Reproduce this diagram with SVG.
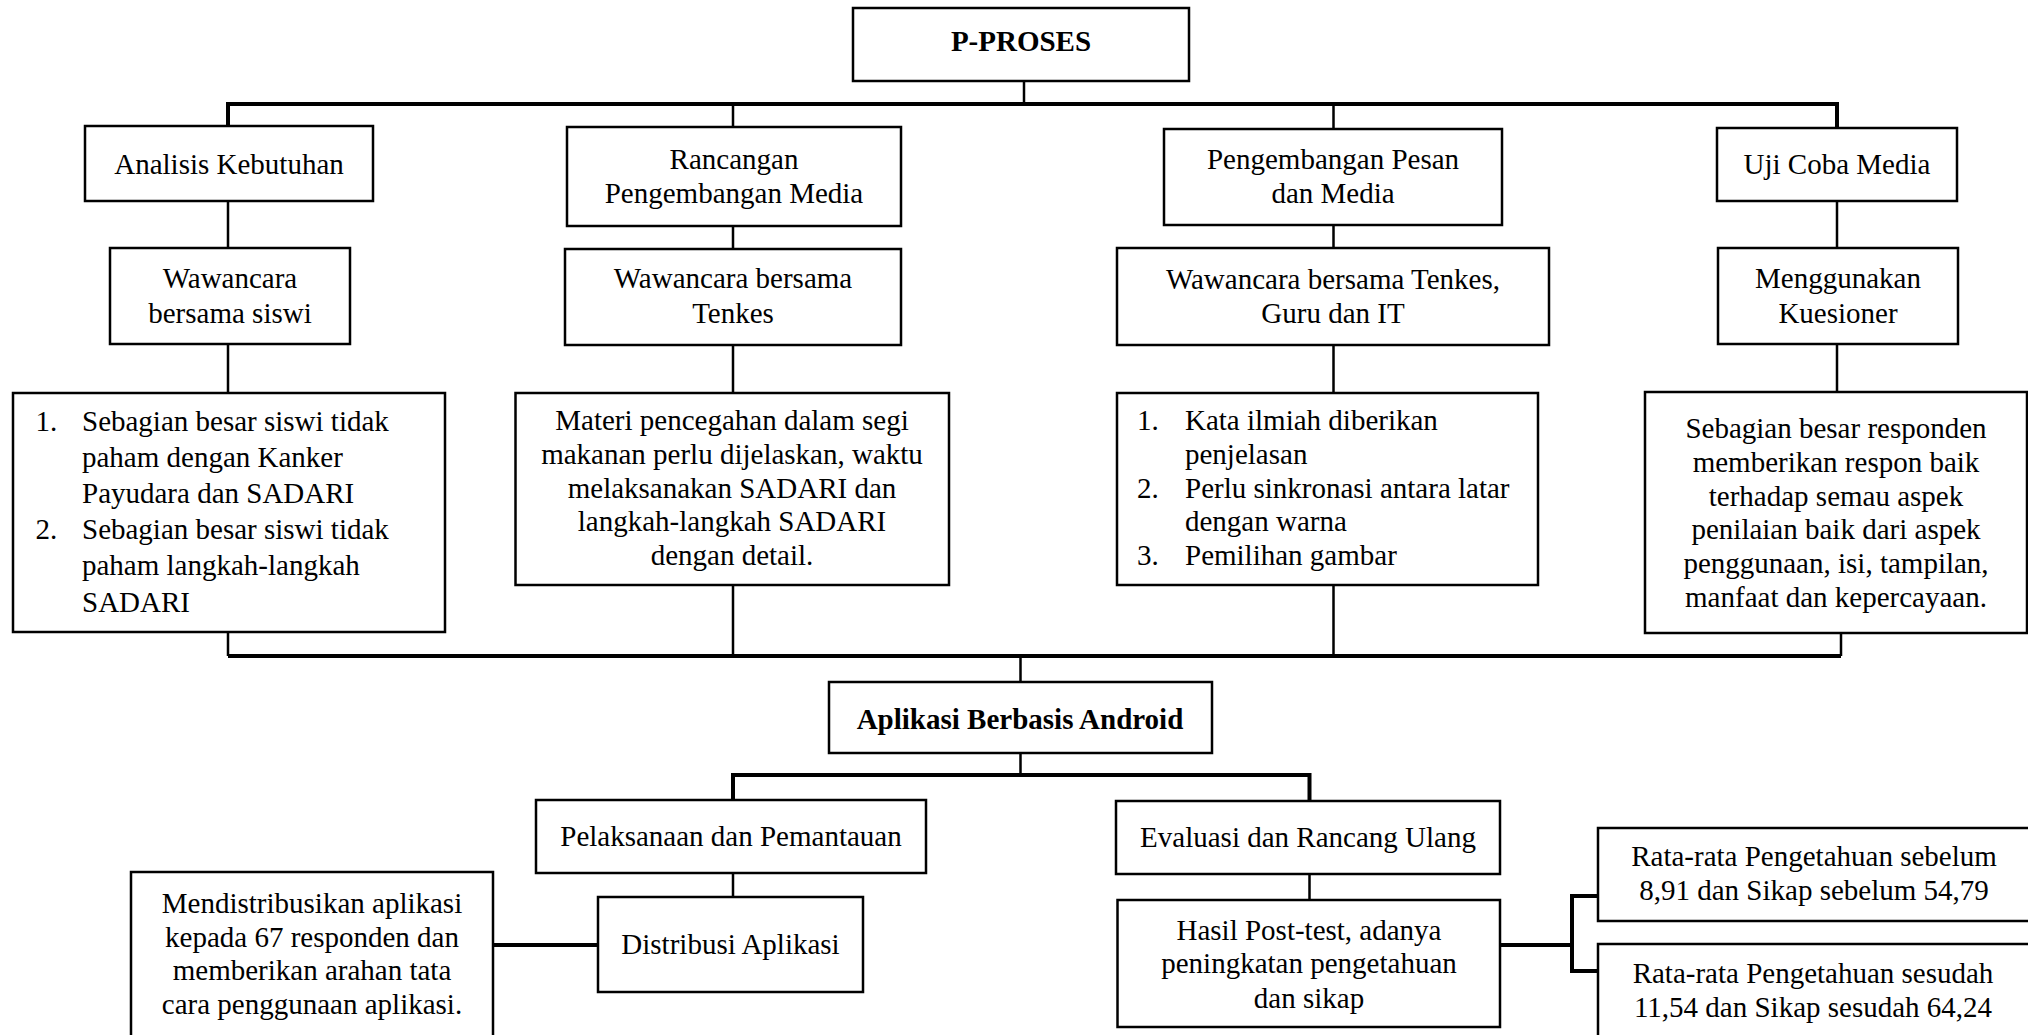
<svg xmlns="http://www.w3.org/2000/svg" width="2028" height="1035" viewBox="0 0 2028 1035">
<style>
.box{fill:#fff;stroke:#000;stroke-width:2.5}
.t{font-family:"Liberation Serif","Times New Roman",serif;font-size:29px;fill:#000}
.c{text-anchor:middle}
.b{font-weight:bold}
.ln{fill:none;stroke:#000;stroke-width:2.5}
.th{fill:none;stroke:#000;stroke-width:4}
</style>
<rect width="2028" height="1035" fill="#fff"/>
<g id="connectors">
<path class="ln" d="M1024 81V104"/>
<path class="th" d="M228 126V104H1837V128"/>
<path class="ln" d="M733 104V127M1333.5 104V129"/>
<path class="ln" d="M228 201V248M733 226V249M1333.5 225V248M1837 201V248"/>
<path class="ln" d="M228 344V393M733 345V393M1333.5 345V393M1837 344V392"/>
<path class="ln" d="M228 632V656M733 585V656M1333.5 585V656M1841 633V656"/>
<path class="th" d="M228 656H1841"/>
<path class="ln" d="M1020.5 656V682"/>
<path class="ln" d="M1020.5 753V775"/>
<path class="th" d="M733 800V775H1309.5V801"/>
<path class="ln" d="M733 873V897M1309.5 874V900"/>
<path class="th" d="M493 945H598"/>
<path class="th" d="M1500 945H1572M1598 896H1572V971H1598"/>
</g>
<g id="n-pproses">
<rect class="box" x="853" y="8" width="336" height="73"/>
<text class="t c b" x="1021" y="51">P-PROSES</text>
</g>
<g id="n-analisis">
<rect class="box" x="85" y="126" width="288" height="75"/>
<text class="t c" x="229" y="174">Analisis Kebutuhan</text>
</g>
<g id="n-rancangan">
<rect class="box" x="567" y="127" width="334" height="99"/>
<text class="t c" x="734" y="169">Rancangan</text>
<text class="t c" x="734" y="203">Pengembangan Media</text>
</g>
<g id="n-pengembangan">
<rect class="box" x="1164" y="129" width="338" height="96"/>
<text class="t c" x="1333" y="169">Pengembangan Pesan</text>
<text class="t c" x="1333" y="203">dan Media</text>
</g>
<g id="n-ujicoba">
<rect class="box" x="1717" y="128" width="240" height="73"/>
<text class="t c" x="1837" y="174">Uji Coba Media</text>
</g>
<g id="n-wawancara-siswi">
<rect class="box" x="110" y="248" width="240" height="96"/>
<text class="t c" x="230" y="288">Wawancara</text>
<text class="t c" x="230" y="323">bersama siswi</text>
</g>
<g id="n-wawancara-tenkes">
<rect class="box" x="565" y="249" width="336" height="96"/>
<text class="t c" x="733" y="288">Wawancara bersama</text>
<text class="t c" x="733" y="323">Tenkes</text>
</g>
<g id="n-wawancara-guru">
<rect class="box" x="1117" y="248" width="432" height="97"/>
<text class="t c" x="1333" y="289">Wawancara bersama Tenkes,</text>
<text class="t c" x="1333" y="323">Guru dan IT</text>
</g>
<g id="n-kuesioner">
<rect class="box" x="1718" y="248" width="240" height="96"/>
<text class="t c" x="1838" y="288">Menggunakan</text>
<text class="t c" x="1838" y="323">Kuesioner</text>
</g>
<g id="n-hasil-analisis">
<rect class="box" x="13" y="393" width="432" height="239"/>
<text class="t" x="35.5" y="430.5">1.</text>
<text class="t" x="82" y="430.5">Sebagian besar siswi tidak</text>
<text class="t" x="82" y="466.7">paham dengan Kanker</text>
<text class="t" x="82" y="503">Payudara dan SADARI</text>
<text class="t" x="35.5" y="539.2">2.</text>
<text class="t" x="82" y="539.2">Sebagian besar siswi tidak</text>
<text class="t" x="82" y="575.4">paham langkah-langkah</text>
<text class="t" x="82" y="611.6">SADARI</text>
</g>
<g id="n-materi">
<rect class="box" x="515.5" y="393" width="433.5" height="192"/>
<text class="t c" x="732" y="430">Materi pencegahan dalam segi</text>
<text class="t c" x="732" y="463.7">makanan perlu dijelaskan, waktu</text>
<text class="t c" x="732" y="497.5">melaksanakan SADARI dan</text>
<text class="t c" x="732" y="531.2">langkah-langkah SADARI</text>
<text class="t c" x="732" y="565">dengan detail.</text>
</g>
<g id="n-kata-ilmiah">
<rect class="box" x="1117" y="393" width="421" height="192"/>
<text class="t" x="1137" y="430">1.</text>
<text class="t" x="1185" y="430">Kata ilmiah diberikan</text>
<text class="t" x="1185" y="463.7">penjelasan</text>
<text class="t" x="1137" y="497.5">2.</text>
<text class="t" x="1185" y="497.5">Perlu sinkronasi antara latar</text>
<text class="t" x="1185" y="531.2">dengan warna</text>
<text class="t" x="1137" y="565">3.</text>
<text class="t" x="1185" y="565">Pemilihan gambar</text>
</g>
<g id="n-responden">
<rect class="box" x="1645" y="392" width="382" height="241"/>
<text class="t c" x="1836" y="438.3">Sebagian besar responden</text>
<text class="t c" x="1836" y="472">memberikan respon baik</text>
<text class="t c" x="1836" y="505.7">terhadap semau aspek</text>
<text class="t c" x="1836" y="539.3">penilaian baik dari aspek</text>
<text class="t c" x="1836" y="573">penggunaan, isi, tampilan,</text>
<text class="t c" x="1836" y="606.7">manfaat dan kepercayaan.</text>
</g>
<g id="n-aplikasi">
<rect class="box" x="829" y="682" width="383" height="71"/>
<text class="t c b" x="1020" y="728.5">Aplikasi Berbasis Android</text>
</g>
<g id="n-pelaksanaan">
<rect class="box" x="536" y="800" width="390" height="73"/>
<text class="t c" x="731" y="845.7">Pelaksanaan dan Pemantauan</text>
</g>
<g id="n-evaluasi">
<rect class="box" x="1116" y="801" width="384" height="73"/>
<text class="t c" x="1308" y="847.3">Evaluasi dan Rancang Ulang</text>
</g>
<g id="n-distribusi">
<rect class="box" x="598" y="897" width="265" height="95"/>
<text class="t c" x="730.5" y="954">Distribusi Aplikasi</text>
</g>
<g id="n-mendistribusikan">
<rect class="box" x="131" y="872" width="362" height="175"/>
<text class="t c" x="312" y="913.3">Mendistribusikan aplikasi</text>
<text class="t c" x="312" y="946.7">kepada 67 responden dan</text>
<text class="t c" x="312" y="980">memberikan arahan tata</text>
<text class="t c" x="312" y="1014.3">cara penggunaan aplikasi.</text>
</g>
<g id="n-hasil">
<rect class="box" x="1117.5" y="900" width="382.5" height="127"/>
<text class="t c" x="1309" y="940">Hasil Post-test, adanya</text>
<text class="t c" x="1309" y="973.3">peningkatan pengetahuan</text>
<text class="t c" x="1309" y="1007.7">dan sikap</text>
</g>
<g id="n-sebelum">
<rect class="box" x="1598" y="828" width="440" height="93"/>
<text class="t c" x="1814" y="866">Rata-rata Pengetahuan sebelum</text>
<text class="t c" x="1814" y="900">8,91 dan Sikap sebelum 54,79</text>
</g>
<g id="n-sesudah">
<rect class="box" x="1598" y="944" width="440" height="110"/>
<text class="t c" x="1813" y="982.7">Rata-rata Pengetahuan sesudah</text>
<text class="t c" x="1813" y="1016.7">11,54 dan Sikap sesudah 64,24</text>
</g>
</svg>
